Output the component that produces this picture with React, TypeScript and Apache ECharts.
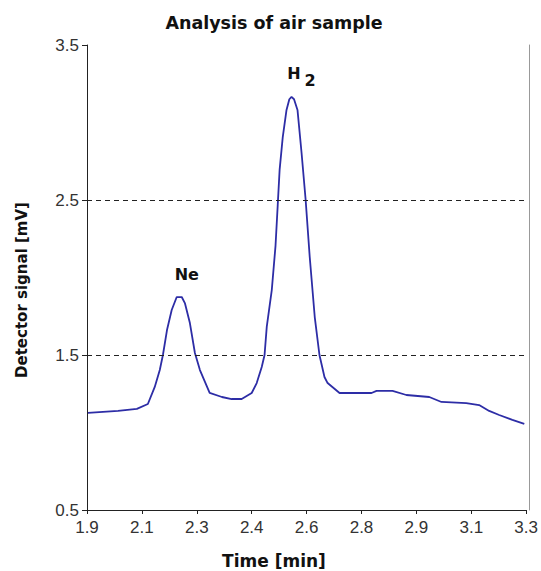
import React, { useEffect, useRef } from "react";
import * as echarts from "echarts";

// Time axis (minutes) and detector signal (mV)
const timeMin = [
  1.903, 1.999, 2.059, 2.094, 2.116, 2.132, 2.142, 2.155, 2.17, 2.186,
  2.202, 2.212, 2.228, 2.244, 2.26, 2.291, 2.33, 2.361, 2.393, 2.425,
  2.441, 2.457, 2.466, 2.473, 2.489, 2.501, 2.508, 2.514, 2.524, 2.536,
  2.545, 2.552, 2.56, 2.571, 2.584, 2.597, 2.61, 2.626, 2.641, 2.657,
  2.667, 2.705, 2.807, 2.823, 2.874, 2.918, 2.991, 3.03, 3.109, 3.15,
  3.182, 3.214, 3.256, 3.294,
];
const signalMv = [
  1.126, 1.139, 1.152, 1.184, 1.294, 1.403, 1.5, 1.661, 1.79, 1.874,
  1.874, 1.835, 1.706, 1.513, 1.403, 1.255, 1.229, 1.216, 1.216, 1.255,
  1.319, 1.423, 1.5, 1.681, 1.919, 2.206, 2.468, 2.694, 2.906, 3.081,
  3.15, 3.165, 3.15, 3.081, 2.803, 2.5, 2.132, 1.745, 1.5, 1.358,
  1.319, 1.255, 1.255, 1.268, 1.268, 1.242, 1.229, 1.197, 1.19, 1.177,
  1.139, 1.113, 1.081, 1.055,
];

const xTickLabels = ["1.9", "2.1", "2.3", "2.4", "2.6", "2.8", "2.9", "3.1", "3.3"];
const yTickLabels = ["0.5", "1.5", "2.5", "3.5"];
const xRange = [1.9, 3.3];
const yRange = [0.5, 3.5];
const referenceLevels = [1.5, 2.5];

const peakNames = ["Ne", "H", "2"];
const peakTimes = [2.218, 2.56, 2.611];
const peakSignals = [2.02, 3.319, 3.274];

const chartTitle = "Analysis of air sample";
const xTitle = "Time [min]";
const yTitle = "Detector signal [mV]";

export default function App() {
  const ref = useRef<HTMLDivElement>(null);
  useEffect(() => {
    if (!ref.current) return;
    const chart = echarts.init(ref.current, undefined, { renderer: "svg" });
    const boldFont = "DejaVu Sans";
    const tickFont = "Liberation Sans";
    chart.setOption({
      animation: false,
      backgroundColor: "#ffffff",
      grid: { left: 87, right: 14, top: 45, bottom: 61, containLabel: false },
      xAxis: [
        {
          type: "category",
          data: xTickLabels,
          boundaryGap: false,
          position: "bottom",
          axisLine: { show: true, lineStyle: { color: "#222", width: 1 } },
          axisTick: { show: true, length: 4, interval: 0, lineStyle: { color: "#222" } },
          axisLabel: { interval: 0, fontSize: 17, color: "#333", margin: 9, fontFamily: tickFont },
          splitLine: { show: false },
        },
        { type: "value", min: xRange[0], max: xRange[1], show: false },
      ],
      yAxis: [
        {
          type: "category",
          data: yTickLabels,
          boundaryGap: false,
          position: "left",
          axisLine: { show: true, lineStyle: { color: "#222", width: 1 } },
          axisTick: { show: true, length: 5, interval: 0, lineStyle: { color: "#222" } },
          axisLabel: { interval: 0, fontSize: 17, color: "#333", margin: 8, fontFamily: tickFont },
          splitLine: { show: false },
        },
        {
          type: "value",
          min: yRange[0],
          max: yRange[1],
          position: "right",
          offset: 3,
          axisLine: { show: true, lineStyle: { color: "#999", width: 1 } },
          axisTick: { show: false },
          axisLabel: { show: false },
          splitLine: { show: false },
        },
      ],
      series: [
        {
          type: "line",
          xAxisIndex: 1,
          yAxisIndex: 1,
          data: timeMin.map((t, i) => [t, signalMv[i]]),
          showSymbol: false,
          symbol: "none",
          smooth: false,
          lineStyle: { color: "#2d2da6", width: 1.8 },
          markLine: {
            silent: true,
            symbol: ["none", "none"],
            label: { show: false },
            lineStyle: { color: "#222", width: 1, type: [5, 4] },
            data: referenceLevels.map((v) => ({ yAxis: v })),
          },
          markPoint: {
            silent: true,
            symbol: "circle",
            symbolSize: 0,
            data: peakNames.map((n, i) => ({
              name: n,
              coord: [peakTimes[i], peakSignals[i]],
            })),
            label: {
              show: true,
              position: "inside",
              formatter: (p: any) => p.name,
              fontFamily: boldFont,
              fontWeight: "bold",
              fontSize: 16,
              color: "#111",
            },
          },
        },
      ],
      graphic: [
        {
          type: "text",
          x: 274,
          y: 23,
          style: {
            text: chartTitle,
            fontFamily: boldFont,
            fontWeight: "bold",
            fontSize: 17.5,
            fill: "#111",
            textAlign: "center",
            textVerticalAlign: "middle",
          },
        },
        {
          type: "text",
          x: 274,
          y: 561,
          style: {
            text: xTitle,
            fontFamily: boldFont,
            fontWeight: "bold",
            fontSize: 17,
            fill: "#111",
            textAlign: "center",
            textVerticalAlign: "middle",
          },
        },
        {
          type: "text",
          x: 22,
          y: 290,
          rotation: Math.PI / 2,
          style: {
            text: yTitle,
            fontFamily: boldFont,
            fontWeight: "bold",
            fontSize: 15,
            fill: "#111",
            textAlign: "center",
            textVerticalAlign: "middle",
          },
        },
      ],
    });
    return () => chart.dispose();
  }, []);
  return (
    <div
      ref={ref}
      style={{ position: "fixed", left: 0, top: 0, width: 541, height: 571 }}
    />
  );
}
